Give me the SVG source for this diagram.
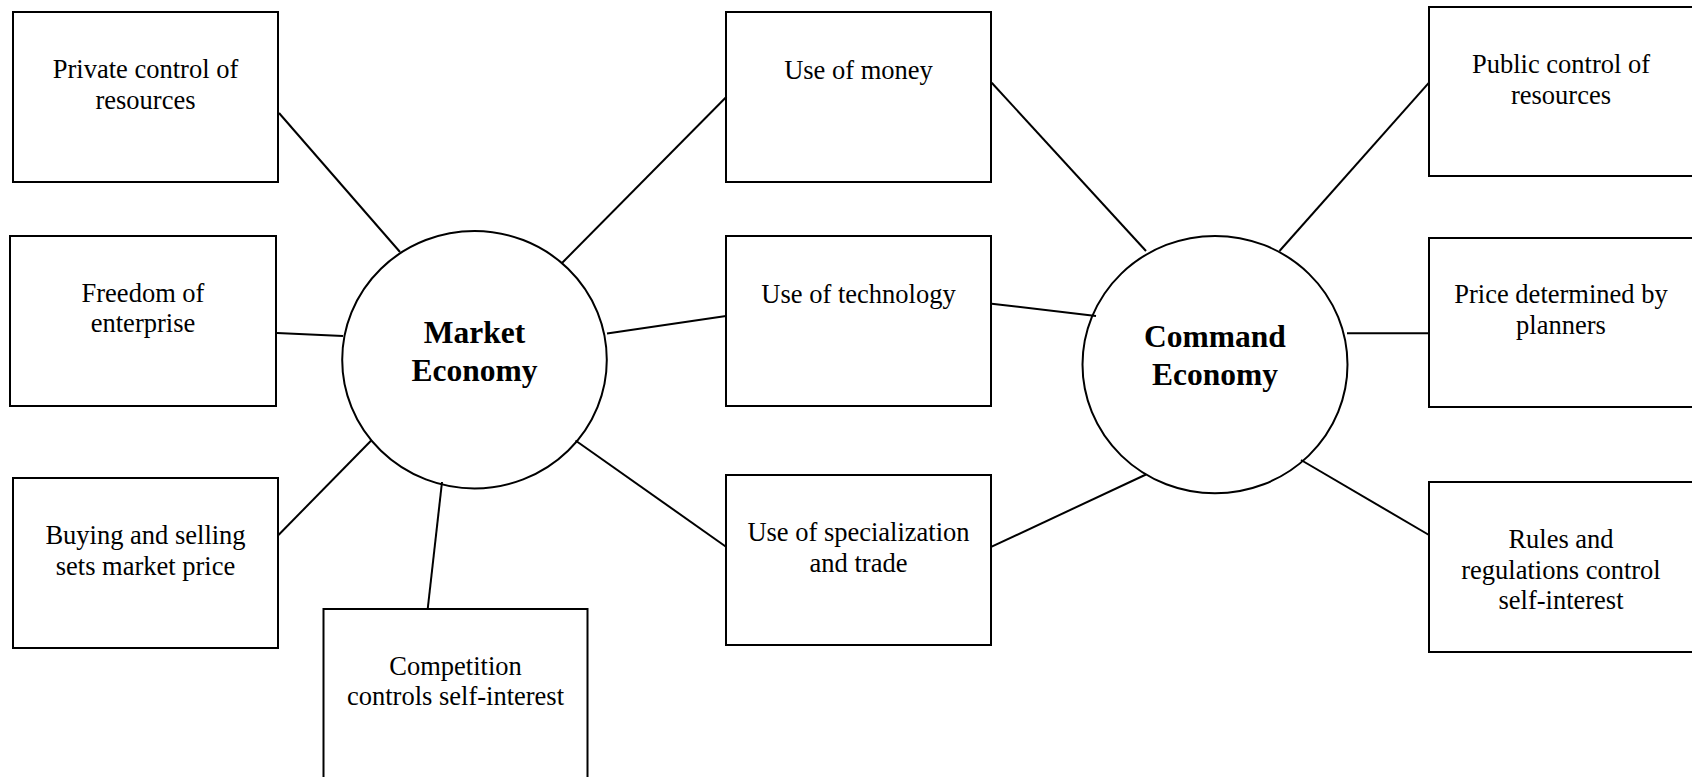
<svg xmlns="http://www.w3.org/2000/svg" width="1692" height="777" viewBox="0 0 1692 777">
<style>
  .box { fill: #ffffff; stroke: #000000; stroke-width: 2; }
  .hub { fill: #ffffff; stroke: #000000; stroke-width: 2; }
  .lbl { font-family: "Liberation Serif", "Times New Roman", serif; font-size: 26.5px; fill: #000000; text-anchor: middle; }
  .hubl { font-family: "Liberation Serif", "Times New Roman", serif; font-size: 31.5px; font-weight: bold; fill: #000000; text-anchor: middle; }
  .conn line { stroke: #000000; stroke-width: 2; }
</style>
<rect x="0" y="0" width="1692" height="777" fill="#ffffff"/>

<g id="market-economy">
  <ellipse class="hub" cx="474.5" cy="359.7" rx="132.3" ry="128.7"/>
  <text class="hubl" x="474.5" y="342.7">Market</text>
  <text class="hubl" x="474.5" y="381">Economy</text>
</g>
<g id="command-economy">
  <ellipse class="hub" cx="1215" cy="364.6" rx="132.5" ry="128.7"/>
  <text class="hubl" x="1215" y="347.3">Command</text>
  <text class="hubl" x="1215" y="385.3">Economy</text>
</g>

<g id="private-control">
  <rect class="box" x="13" y="12" width="265" height="170"/>
  <text class="lbl" x="145.5" y="78.3">Private control of</text>
  <text class="lbl" x="145.5" y="108.5">resources</text>
</g>
<g id="freedom-enterprise">
  <rect class="box" x="10" y="236" width="266" height="170"/>
  <text class="lbl" x="143" y="301.7">Freedom of</text>
  <text class="lbl" x="143" y="332.3">enterprise</text>
</g>
<g id="buying-selling">
  <rect class="box" x="13" y="478" width="265" height="170"/>
  <text class="lbl" x="145.5" y="543.7">Buying and selling</text>
  <text class="lbl" x="145.5" y="574.7">sets market price</text>
</g>
<g id="competition">
  <rect class="box" x="323.5" y="609" width="264" height="170"/>
  <text class="lbl" x="455.5" y="675">Competition</text>
  <text class="lbl" x="455.5" y="705">controls self-interest</text>
</g>

<g id="use-money">
  <rect class="box" x="726" y="12" width="265" height="170"/>
  <text class="lbl" x="858.5" y="79">Use of money</text>
</g>
<g id="use-technology">
  <rect class="box" x="726" y="236" width="265" height="170"/>
  <text class="lbl" x="858.5" y="302.7">Use of technology</text>
</g>
<g id="use-specialization">
  <rect class="box" x="726" y="475" width="265" height="170"/>
  <text class="lbl" x="858.5" y="540.7">Use of specialization</text>
  <text class="lbl" x="858.5" y="571.5">and trade</text>
</g>

<g id="public-control">
  <rect class="box" x="1429" y="7" width="265" height="169"/>
  <text class="lbl" x="1561" y="73.3">Public control of</text>
  <text class="lbl" x="1561" y="103.8">resources</text>
</g>
<g id="price-planners">
  <rect class="box" x="1429" y="238" width="265" height="169"/>
  <text class="lbl" x="1561" y="303.3">Price determined by</text>
  <text class="lbl" x="1561" y="334">planners</text>
</g>
<g id="rules-regulations">
  <rect class="box" x="1429" y="482" width="265" height="170"/>
  <text class="lbl" x="1561" y="548.3">Rules and</text>
  <text class="lbl" x="1561" y="579">regulations control</text>
  <text class="lbl" x="1561" y="609.3">self-interest</text>
</g>

<g id="connectors" class="conn">
  <line x1="279" y1="113" x2="400" y2="252"/>
  <line x1="277" y1="333" x2="343" y2="336"/>
  <line x1="278.5" y1="535" x2="371.7" y2="440"/>
  <line x1="427.7" y1="609" x2="442" y2="482"/>
  <line x1="562" y1="263" x2="726.5" y2="96.7"/>
  <line x1="607" y1="333.5" x2="726" y2="316"/>
  <line x1="575.5" y1="440.5" x2="726" y2="546.7"/>
  <line x1="991.7" y1="82.7" x2="1146" y2="251"/>
  <line x1="991.7" y1="303.7" x2="1096" y2="316"/>
  <line x1="991.7" y1="546.7" x2="1146" y2="474.5"/>
  <line x1="1279.5" y1="251" x2="1429" y2="82.7"/>
  <line x1="1347" y1="333.2" x2="1429" y2="333.2"/>
  <line x1="1301" y1="460" x2="1429" y2="535"/>
</g>
</svg>
